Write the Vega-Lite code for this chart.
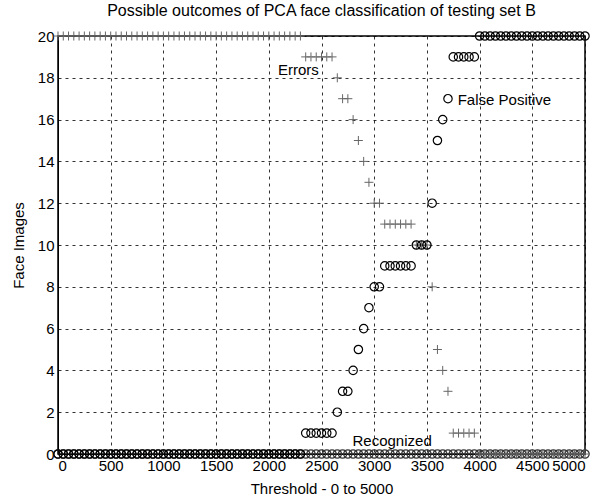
{
  "$schema": "https://vega.github.io/schema/vega-lite/v6.json",
  "width": 527,
  "height": 418,
  "autosize": "none",
  "padding": {"left": 58, "top": 36, "right": 23, "bottom": 45},
  "background": "white",
  "config": {
    "font": "Liberation Sans",
    "view": {"stroke": "black", "strokeWidth": 1.5},
    "axis": {
      "domainColor": "black",
      "labelColor": "black",
      "titleColor": "black",
      "labelFont": "Liberation Sans",
      "titleFont": "Liberation Sans",
      "labelFontSize": 15,
      "titleFontSize": 15,
      "titleFontWeight": "normal",
      "ticks": false,
      "grid": true,
      "gridColor": "black",
      "gridDash": [3, 4],
      "gridOpacity": 0.8
    },
    "title": {"font": "Liberation Sans", "fontSize": 16, "fontWeight": "normal", "color": "black", "offset": 10}
  },
  "title": "Possible outcomes of PCA face classification of testing set B",
  "data": {"values": [
    {"t":0,"err":20,"fp":0,"rec":0},{"t":50,"err":20,"fp":0,"rec":0},{"t":100,"err":20,"fp":0,"rec":0},{"t":150,"err":20,"fp":0,"rec":0},
    {"t":200,"err":20,"fp":0,"rec":0},{"t":250,"err":20,"fp":0,"rec":0},{"t":300,"err":20,"fp":0,"rec":0},{"t":350,"err":20,"fp":0,"rec":0},
    {"t":400,"err":20,"fp":0,"rec":0},{"t":450,"err":20,"fp":0,"rec":0},{"t":500,"err":20,"fp":0,"rec":0},{"t":550,"err":20,"fp":0,"rec":0},
    {"t":600,"err":20,"fp":0,"rec":0},{"t":650,"err":20,"fp":0,"rec":0},{"t":700,"err":20,"fp":0,"rec":0},{"t":750,"err":20,"fp":0,"rec":0},
    {"t":800,"err":20,"fp":0,"rec":0},{"t":850,"err":20,"fp":0,"rec":0},{"t":900,"err":20,"fp":0,"rec":0},{"t":950,"err":20,"fp":0,"rec":0},
    {"t":1000,"err":20,"fp":0,"rec":0},{"t":1050,"err":20,"fp":0,"rec":0},{"t":1100,"err":20,"fp":0,"rec":0},{"t":1150,"err":20,"fp":0,"rec":0},
    {"t":1200,"err":20,"fp":0,"rec":0},{"t":1250,"err":20,"fp":0,"rec":0},{"t":1300,"err":20,"fp":0,"rec":0},{"t":1350,"err":20,"fp":0,"rec":0},
    {"t":1400,"err":20,"fp":0,"rec":0},{"t":1450,"err":20,"fp":0,"rec":0},{"t":1500,"err":20,"fp":0,"rec":0},{"t":1550,"err":20,"fp":0,"rec":0},
    {"t":1600,"err":20,"fp":0,"rec":0},{"t":1650,"err":20,"fp":0,"rec":0},{"t":1700,"err":20,"fp":0,"rec":0},{"t":1750,"err":20,"fp":0,"rec":0},
    {"t":1800,"err":20,"fp":0,"rec":0},{"t":1850,"err":20,"fp":0,"rec":0},{"t":1900,"err":20,"fp":0,"rec":0},{"t":1950,"err":20,"fp":0,"rec":0},
    {"t":2000,"err":20,"fp":0,"rec":0},{"t":2050,"err":20,"fp":0,"rec":0},{"t":2100,"err":20,"fp":0,"rec":0},{"t":2150,"err":20,"fp":0,"rec":0},
    {"t":2200,"err":20,"fp":0,"rec":0},{"t":2250,"err":20,"fp":0,"rec":0},{"t":2300,"err":20,"fp":0,"rec":0},
    {"t":2350,"err":19,"fp":1,"rec":0},{"t":2400,"err":19,"fp":1,"rec":0},{"t":2450,"err":19,"fp":1,"rec":0},{"t":2500,"err":19,"fp":1,"rec":0},
    {"t":2550,"err":19,"fp":1,"rec":0},{"t":2600,"err":19,"fp":1,"rec":0},
    {"t":2650,"err":18,"fp":2,"rec":0},
    {"t":2700,"err":17,"fp":3,"rec":0},{"t":2750,"err":17,"fp":3,"rec":0},
    {"t":2800,"err":16,"fp":4,"rec":0},
    {"t":2850,"err":15,"fp":5,"rec":0},
    {"t":2900,"err":14,"fp":6,"rec":0},
    {"t":2950,"err":13,"fp":7,"rec":0},
    {"t":3000,"err":12,"fp":8,"rec":0},{"t":3050,"err":12,"fp":8,"rec":0},
    {"t":3100,"err":11,"fp":9,"rec":0},{"t":3150,"err":11,"fp":9,"rec":0},{"t":3200,"err":11,"fp":9,"rec":0},{"t":3250,"err":11,"fp":9,"rec":0},
    {"t":3300,"err":11,"fp":9,"rec":0},{"t":3350,"err":11,"fp":9,"rec":0},
    {"t":3400,"err":10,"fp":10,"rec":0},{"t":3450,"err":10,"fp":10,"rec":0},{"t":3500,"err":10,"fp":10,"rec":0},
    {"t":3550,"err":8,"fp":12,"rec":0},
    {"t":3600,"err":5,"fp":15,"rec":0},
    {"t":3650,"err":4,"fp":16,"rec":0},
    {"t":3700,"err":3,"fp":17,"rec":0},
    {"t":3750,"err":1,"fp":19,"rec":0},{"t":3800,"err":1,"fp":19,"rec":0},{"t":3850,"err":1,"fp":19,"rec":0},{"t":3900,"err":1,"fp":19,"rec":0},
    {"t":3950,"err":1,"fp":19,"rec":0},
    {"t":4000,"err":0,"fp":20,"rec":0},{"t":4050,"err":0,"fp":20,"rec":0},{"t":4100,"err":0,"fp":20,"rec":0},{"t":4150,"err":0,"fp":20,"rec":0},
    {"t":4200,"err":0,"fp":20,"rec":0},{"t":4250,"err":0,"fp":20,"rec":0},{"t":4300,"err":0,"fp":20,"rec":0},{"t":4350,"err":0,"fp":20,"rec":0},
    {"t":4400,"err":0,"fp":20,"rec":0},{"t":4450,"err":0,"fp":20,"rec":0},{"t":4500,"err":0,"fp":20,"rec":0},{"t":4550,"err":0,"fp":20,"rec":0},
    {"t":4600,"err":0,"fp":20,"rec":0},{"t":4650,"err":0,"fp":20,"rec":0},{"t":4700,"err":0,"fp":20,"rec":0},{"t":4750,"err":0,"fp":20,"rec":0},
    {"t":4800,"err":0,"fp":20,"rec":0},{"t":4850,"err":0,"fp":20,"rec":0},{"t":4900,"err":0,"fp":20,"rec":0},{"t":4950,"err":0,"fp":20,"rec":0},
    {"t":5000,"err":0,"fp":20,"rec":0}
  ]},
  "layer": [
    {
      "mark": {"type": "point", "shape": "circle", "filled": false, "stroke": "#333333", "strokeWidth": 1.2, "size": 70, "opacity": 1},
      "encoding": {
        "x": {"field": "t", "type": "quantitative", "scale": {"domain": [0, 5000], "nice": false},
              "axis": {"values": [0,500,1000,1500,2000,2500,3000,3500,4000,4500,5000], "format": "d", "title": "Threshold - 0 to 5000", "labelPadding": 4, "titlePadding": 8}},
        "y": {"field": "rec", "type": "quantitative", "scale": {"domain": [0, 20], "nice": false},
              "axis": {"values": [0,2,4,6,8,10,12,14,16,18,20], "format": "d", "title": "Face Images", "labelPadding": 4, "titlePadding": 11}}
      }
    },
    {
      "mark": {"type": "point", "shape": "M-1,0H1M0,-1V1", "filled": false, "stroke": "#666666", "strokeWidth": 1, "size": 81, "opacity": 1},
      "encoding": {
        "x": {"field": "t", "type": "quantitative"},
        "y": {"field": "err", "type": "quantitative"}
      }
    },
    {
      "mark": {"type": "point", "shape": "circle", "filled": false, "stroke": "black", "strokeWidth": 1.2, "size": 70, "opacity": 1},
      "encoding": {
        "x": {"field": "t", "type": "quantitative"},
        "y": {"field": "fp", "type": "quantitative"}
      }
    },
    {
      "data": {"values": [
        {"label": "Errors", "lt": 2280, "ly": 18.35},
        {"label": "Recognized", "lt": 3170, "ly": 0.6},
        {"label": "False Positive", "lt": 4235, "ly": 16.95}
      ]},
      "mark": {"type": "text", "font": "Liberation Sans", "fontSize": 15, "color": "black", "baseline": "middle", "align": "center"},
      "encoding": {
        "x": {"field": "lt", "type": "quantitative"},
        "y": {"field": "ly", "type": "quantitative"},
        "text": {"field": "label"}
      }
    }
  ]
}
